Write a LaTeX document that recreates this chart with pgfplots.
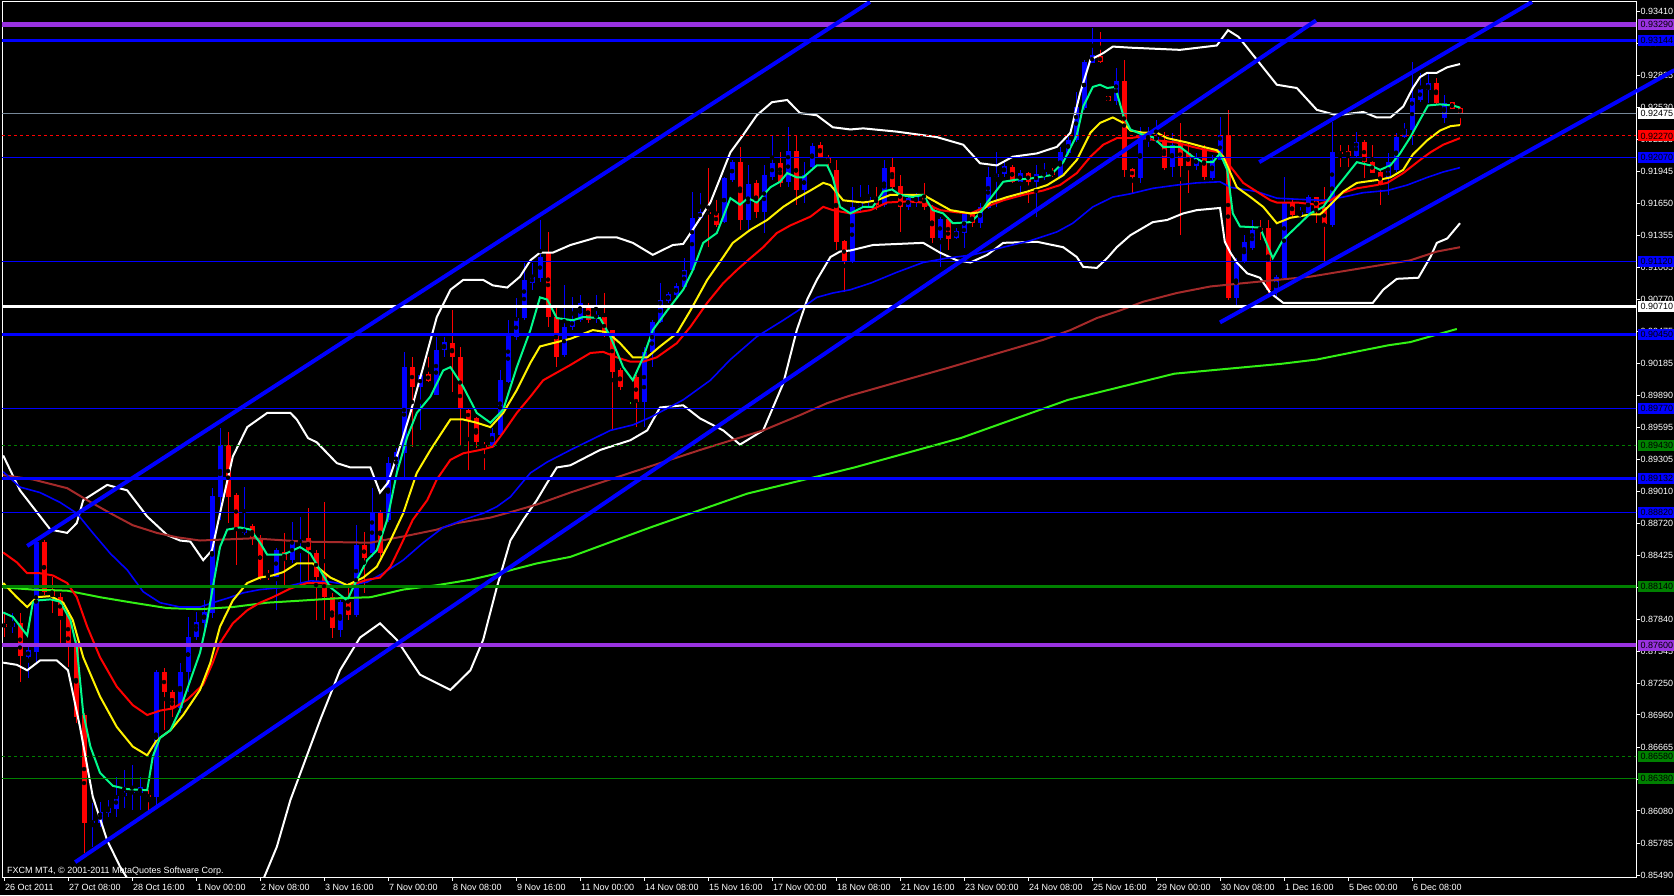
\documentclass[border=0pt]{standalone}
\usepackage{fontspec}
\setmainfont{Liberation Sans}
\usepackage{pgfplots}
\usepackage{pgfplotstable}
\pgfplotsset{compat=1.18}
\definecolor{mtpurple}{RGB}{153,50,224}
\definecolor{mtgreen}{RGB}{0,128,0}
\definecolor{mtspring}{RGB}{0,250,140}
\definecolor{mtbrown}{RGB}{165,42,42}
\definecolor{mtlime}{RGB}{50,240,20}
\definecolor{mtgray}{RGB}{119,136,153}
\definecolor{mtblue}{RGB}{0,0,255}

\pgfplotstableread{
x o h l c
1 0.87767 0.87895 0.87712 0.87803
3 0.87492 0.87620 0.87299 0.87556
4 0.87537 0.88565 0.87437 0.88546
11 0.85969 0.86153 0.85749 0.85988
12 0.85969 0.86162 0.85933 0.86070
13 0.86061 0.86180 0.86024 0.86107
14 0.86098 0.86391 0.86024 0.86217
15 0.86217 0.86455 0.86107 0.86244
16 0.86244 0.86501 0.86088 0.86254
17 0.86244 0.86391 0.86088 0.86299
19 0.86208 0.87372 0.86134 0.87354
22 0.87024 0.87437 0.86978 0.87354
23 0.87354 0.87858 0.87171 0.87675
24 0.87675 0.87904 0.87648 0.87813
25 0.87803 0.88014 0.87712 0.87904
26 0.87895 0.89042 0.87849 0.88968
27 0.88959 0.89592 0.88748 0.89436
30 0.88629 0.89051 0.88611 0.88675
34 0.88225 0.88491 0.87923 0.88473
36 0.88381 0.88730 0.88354 0.88565
37 0.88546 0.88776 0.88152 0.88565
42 0.87739 0.88014 0.87675 0.87996
44 0.87877 0.88702 0.87858 0.88519
46 0.88445 0.89042 0.88409 0.88821
48 0.88748 0.89326 0.88730 0.89271
49 0.89252 0.89408 0.89142 0.89372
50 0.89363 0.90289 0.89142 0.90151
52 0.89968 0.90096 0.89573 0.90078
54 0.89894 0.90426 0.89894 0.90307
55 0.90307 0.90426 0.90243 0.90381
61 0.89418 0.89592 0.89408 0.89546
62 0.89528 0.90124 0.89509 0.90032
63 0.90014 0.90582 0.90005 0.90445
64 0.90426 0.90784 0.90399 0.90601
65 0.90601 0.91105 0.90582 0.90949
66 0.90922 0.91105 0.90857 0.90977
67 0.90967 0.91499 0.90931 0.91160
70 0.90261 0.90903 0.90243 0.90518
71 0.90518 0.90793 0.90491 0.90582
72 0.90582 0.90812 0.90564 0.90738
74 0.90601 0.90812 0.90555 0.90628
80 0.89830 0.90335 0.89601 0.90289
81 0.90289 0.90582 0.90151 0.90564
82 0.90564 0.90922 0.90555 0.90766
83 0.90757 0.90839 0.90738 0.90821
84 0.90812 0.90922 0.90793 0.90894
85 0.90885 0.91151 0.90876 0.91041
86 0.91041 0.91756 0.91022 0.91518
87 0.91518 0.91747 0.91499 0.91573
90 0.91481 0.91894 0.91472 0.91885
91 0.91866 0.92050 0.91848 0.92031
93 0.91499 0.92004 0.91389 0.91830
95 0.91573 0.92004 0.91380 0.91912
96 0.91894 0.92279 0.91866 0.92022
98 0.91848 0.92352 0.91802 0.92132
100 0.91775 0.92031 0.91655 0.91912
101 0.91985 0.92206 0.91976 0.92178
106 0.91114 0.91802 0.91105 0.91619
107 0.91619 0.91820 0.91564 0.91655
108 0.91683 0.91820 0.91619 0.91710
110 0.91637 0.92050 0.91619 0.91976
113 0.91619 0.91729 0.91591 0.91701
114 0.91655 0.91747 0.91619 0.91729
117 0.91334 0.91527 0.91068 0.91509
119 0.91334 0.91426 0.91325 0.91398
120 0.91380 0.91573 0.91243 0.91554
122 0.91472 0.91655 0.91426 0.91619
123 0.91609 0.91985 0.91600 0.91894
124 0.91894 0.92123 0.91619 0.91921
125 0.91921 0.92031 0.91894 0.91995
127 0.91848 0.91958 0.91710 0.91930
129 0.91848 0.92004 0.91527 0.91921
130 0.91894 0.92022 0.91866 0.91940
132 0.91894 0.92169 0.91885 0.92123
133 0.92114 0.92261 0.92095 0.92233
134 0.92233 0.92673 0.92215 0.92536
135 0.92527 0.92967 0.92508 0.92948
136 0.92939 0.93260 0.92939 0.93013
139 0.92591 0.92893 0.92554 0.92774
142 0.91885 0.92352 0.91839 0.92279
143 0.92224 0.92352 0.92169 0.92251
144 0.92233 0.92416 0.92206 0.92261
146 0.91985 0.92297 0.91894 0.92187
149 0.91995 0.92114 0.91958 0.92077
151 0.91885 0.92095 0.91866 0.92050
152 0.92050 0.92444 0.92050 0.92279
154 0.90784 0.91151 0.90701 0.91105
155 0.91114 0.91362 0.91105 0.91298
156 0.91243 0.91499 0.91224 0.91408
159 0.90857 0.90995 0.90793 0.90977
160 0.90967 0.91894 0.90949 0.91655
162 0.91527 0.91619 0.91518 0.91573
163 0.91564 0.91729 0.91545 0.91710
166 0.91454 0.92398 0.91435 0.92123
169 0.92086 0.92306 0.92077 0.92215
173 0.91894 0.92114 0.91729 0.92031
174 0.91958 0.92297 0.91940 0.92261
175 0.92261 0.92389 0.92251 0.92334
176 0.92325 0.92948 0.92187 0.92618
177 0.92600 0.92848 0.92582 0.92701
178 0.92692 0.92848 0.92572 0.92756
180 0.92435 0.92646 0.92389 0.92572
}\upbars

\pgfplotstableread{
x o h l c
0 0.87794 0.87895 0.87675 0.87767
2 0.87803 0.87895 0.87262 0.87501
5 0.88546 0.88565 0.88060 0.88088
6 0.88115 0.88225 0.87895 0.88051
7 0.88042 0.88079 0.87620 0.87868
8 0.87877 0.87923 0.87400 0.87620
9 0.87620 0.87648 0.86886 0.86941
10 0.86960 0.86978 0.85694 0.85969
18 0.86226 0.86272 0.86088 0.86208
20 0.87354 0.87391 0.86822 0.87171
21 0.87171 0.87189 0.86941 0.87024
28 0.89436 0.89555 0.88721 0.88959
29 0.88977 0.88996 0.88335 0.88675
31 0.88693 0.88711 0.88519 0.88583
32 0.88583 0.88611 0.88198 0.88225
33 0.88244 0.88290 0.88198 0.88225
35 0.88455 0.88629 0.88152 0.88381
38 0.88583 0.88858 0.88179 0.88473
39 0.88445 0.88473 0.87831 0.88225
40 0.88244 0.88913 0.87831 0.88042
41 0.88042 0.88079 0.87666 0.87758
43 0.87996 0.88170 0.87831 0.87877
45 0.88519 0.88638 0.88079 0.88400
47 0.88821 0.88840 0.88409 0.88445
51 0.90151 0.90243 0.89418 0.89968
53 0.90087 0.90243 0.90014 0.90023
56 0.90371 0.90674 0.89922 0.90243
57 0.90243 0.90335 0.89436 0.89775
58 0.89757 0.89775 0.89207 0.89665
59 0.89684 0.89693 0.89408 0.89463
60 0.89436 0.89463 0.89207 0.89418
68 0.91197 0.91389 0.90518 0.90610
69 0.90610 0.90701 0.90151 0.90243
73 0.90720 0.90738 0.90555 0.90582
75 0.90610 0.90830 0.90426 0.90445
76 0.90491 0.90491 0.89573 0.90105
77 0.90124 0.90142 0.89940 0.89968
79 0.90060 0.90078 0.89601 0.89830
88 0.91573 0.91976 0.91252 0.91564
89 0.91564 0.91683 0.91435 0.91454
92 0.92031 0.92169 0.91408 0.91499
94 0.91839 0.91866 0.91518 0.91573
97 0.92022 0.92123 0.91802 0.91839
99 0.92132 0.92279 0.91637 0.91775
102 0.92187 0.92215 0.92068 0.92077
103 0.92077 0.92095 0.91976 0.92022
104 0.91958 0.92050 0.91224 0.91298
105 0.91307 0.91316 0.90839 0.91114
109 0.91710 0.91802 0.91591 0.91637
111 0.91985 0.92068 0.91775 0.91802
112 0.91811 0.91912 0.91389 0.91619
115 0.91729 0.91839 0.91591 0.91619
116 0.91619 0.91637 0.91288 0.91334
118 0.91509 0.91527 0.91224 0.91325
121 0.91554 0.91564 0.91435 0.91472
126 0.91985 0.92004 0.91839 0.91848
128 0.91930 0.91940 0.91655 0.91848
131 0.91940 0.91976 0.91894 0.91912
137 0.93003 0.93224 0.92939 0.92948
138 0.92637 0.92637 0.92591 0.92591
140 0.92774 0.92967 0.91894 0.91958
141 0.91967 0.91976 0.91747 0.91894
145 0.92233 0.92306 0.91958 0.91976
147 0.92206 0.92389 0.91362 0.91995
148 0.92114 0.92206 0.91747 0.91995
150 0.92141 0.92187 0.91866 0.91894
153 0.92279 0.92508 0.90766 0.90784
157 0.91426 0.91499 0.91316 0.91408
158 0.91426 0.91499 0.90830 0.90857
161 0.91655 0.91683 0.91527 0.91545
164 0.91710 0.91710 0.91472 0.91591
165 0.91619 0.91802 0.91114 0.91463
167 0.92123 0.92187 0.91985 0.92105
168 0.92132 0.92187 0.91985 0.92086
170 0.92215 0.92233 0.91885 0.92031
171 0.92031 0.92187 0.91930 0.91930
172 0.91940 0.91958 0.91637 0.91820
179 0.92756 0.92802 0.92554 0.92572
181 0.92582 0.92582 0.92517 0.92517
182 0.92527 0.92536 0.92371 0.92475
}\downbars

\pgfplotstableread{
x o h l c
78 0.89821 0.89821 0.89821 0.89821
}\dojibars

\pgfplotsset{
  wick/.style={only marks, mark=none, forget plot,
    error bars/.cd, y dir=both, y explicit, error mark=none,
    error bar style={line width=1pt, #1}},
  body/.style={only marks, mark=none, forget plot,
    error bars/.cd, y dir=both, y explicit, error mark=none,
    error bar style={line width=5pt, #1}},
  hl/.style={forget plot, no markers, line cap=butt},
}
\newcommand{\candles}[2]{%
  \addplot[wick=#2] table[x=x, y expr={(\thisrow{h}+\thisrow{l})/2}, y error expr={(\thisrow{h}-\thisrow{l})/2}] {#1};
  \addplot[body=#2] table[x=x, y expr={(\thisrow{o}+\thisrow{c})/2}, y error expr={max(abs(\thisrow{o}-\thisrow{c})/2,0.00005)}] {#1};
}
\newcommand{\mtfont}{\fontsize{9pt}{10pt}\selectfont}

\begin{document}
\begin{tikzpicture}
\fill[black] (0,0) rectangle (1674pt,895pt);
\begin{axis}[
  at={(2pt,18pt)}, anchor=south west,
  scale only axis, width=1634pt, height=875pt,
  xmin=-0.25, xmax=204, ymin=0.85474, ymax=0.93499,
  axis background/.style={fill=black},
  axis line style={white, line width=1pt},
  xtick={0,8,...,176},
  xticklabels={26 Oct 2011, 27 Oct 08:00, 28 Oct 16:00, 1 Nov 00:00, 2 Nov 08:00, 3 Nov 16:00, 7 Nov 00:00, 8 Nov 08:00, 9 Nov 16:00, 11 Nov 00:00, 14 Nov 08:00, 15 Nov 16:00, 17 Nov 00:00, 18 Nov 08:00, 21 Nov 16:00, 23 Nov 00:00, 24 Nov 08:00, 25 Nov 16:00, 29 Nov 00:00, 30 Nov 08:00, 1 Dec 16:00, 5 Dec 00:00, 6 Dec 08:00},
  ytick={0.85490,0.85785,0.86080,0.86370,0.86665,0.86960,0.87250,0.87545,0.87840,0.88130,0.88425,0.88720,0.89010,0.89305,0.89595,0.89890,0.90185,0.90475,0.90770,0.91065,0.91355,0.91650,0.91945,0.92235,0.92530,0.92825,0.93120,0.93410},
  yticklabels={0.85490,0.85785,0.86080,0.86370,0.86665,0.86960,0.87250,0.87545,0.87840,0.88130,0.88425,0.88720,0.89010,0.89305,0.89595,0.89890,0.90185,0.90475,0.90770,0.91065,0.91355,0.91650,0.91945,0.92235,0.92530,0.92825,0.93120,0.93410},
  xtick pos=bottom, ytick pos=right, yticklabel pos=right,
  tick align=outside, major tick length=3.5pt,
  tick style={white, line width=1pt},
  xticklabel style={anchor=north west, inner sep=0pt, xshift=1pt, yshift=-4pt, text=white, font=\mtfont},
  yticklabel style={anchor=west, inner sep=0pt, xshift=1pt, text=white, font=\mtfont},
  /pgf/number format/assume math mode=true,
  clip=true,
]
% candles
\candles{\upbars}{mtblue}
\candles{\downbars}{red}
\candles{\dojibars}{mtlime}

% Bollinger bands
\addplot[hl, white, line width=2pt] coordinates {
(-0.1,0.8934) (2.0,0.8902) (5.8,0.8866) (7.9,0.8863) (9.1,0.8872) (9.9,0.8893) (12.9,0.8907) (15.4,0.8902) (17.9,0.8878) (20.4,0.8861) (22.0,0.8856) (23.3,0.8855) (24.9,0.8838) (26.0,0.8847) (27.0,0.8881) (28.6,0.8933) (30.4,0.8960) (32.9,0.8973) (35.8,0.8973) (36.6,0.8967) (38.0,0.8950) (39.1,0.8946) (41.6,0.8927) (43.3,0.8923) (45.8,0.8923) (47.0,0.8900) (48.0,0.8909) (49.5,0.8942) (50.8,0.8973) (52.4,0.9015) (54.1,0.9061) (55.8,0.9086) (57.4,0.9095) (59.9,0.9095) (61.1,0.9090) (62.9,0.9088) (64.5,0.9098) (65.8,0.9113) (67.0,0.9120) (68.6,0.9120) (70.8,0.9127) (74.1,0.9134) (76.6,0.9134) (78.6,0.9129) (81.1,0.9118) (83.6,0.9127) (84.9,0.9128) (86.1,0.9141) (88.3,0.9166) (90.8,0.9212) (92.4,0.9228) (94.1,0.9246) (96.0,0.9258) (97.9,0.9260) (99.5,0.9248) (101.6,0.9246) (103.6,0.9235) (105.8,0.9233) (107.4,0.9234) (111.6,0.9231) (116.6,0.9226) (119.9,0.9219) (122.0,0.9202) (124.1,0.9200) (126.1,0.9208) (129.1,0.9211) (131.6,0.9217) (133.3,0.9230) (134.5,0.9266) (135.8,0.9297) (137.4,0.9303) (138.6,0.9309) (140.8,0.9308) (147.0,0.9306) (151.6,0.9310) (153.0,0.9324) (154.3,0.9318) (156.6,0.9297) (159.1,0.9274) (161.6,0.9271) (164.1,0.9251) (166.6,0.9246) (169.9,0.9249) (171.6,0.9244) (173.3,0.9244) (174.9,0.9254) (176.1,0.9271) (177.0,0.9281) (177.9,0.9285) (179.1,0.9285) (180.4,0.9290) (182.0,0.9293)};
\addplot[hl, white, line width=2pt] coordinates {
(-0.1,0.8744) (1.6,0.8742) (2.9,0.8737) (4.5,0.8746) (6.6,0.8746) (8.0,0.8737) (9.5,0.8685) (11.1,0.8621) (12.9,0.8581) (14.5,0.8557) (15.5,0.8545) (19.5,0.8471) (24.5,0.8444) (29.5,0.8480) (32.4,0.8545) (34.1,0.8575) (35.8,0.8618) (39.5,0.8691) (42.0,0.8737) (44.5,0.8767) (47.0,0.8780) (49.1,0.8765) (52.0,0.8733) (55.8,0.8719) (58.3,0.8737) (59.9,0.8765) (61.6,0.8813) (63.3,0.8856) (64.9,0.8875) (66.6,0.8893) (67.9,0.8909) (69.1,0.8923) (70.8,0.8925) (74.5,0.8939) (78.3,0.8948) (80.4,0.8957) (82.0,0.8978) (84.9,0.8980) (87.0,0.8968) (89.9,0.8957) (92.0,0.8944) (94.9,0.8957) (97.4,0.9000) (99.1,0.9049) (100.4,0.9077) (101.6,0.9095) (103.3,0.9116) (104.5,0.9121) (105.8,0.9122) (108.6,0.9127) (114.9,0.9129) (117.0,0.9120) (119.1,0.9113) (120.8,0.9111) (122.9,0.9118) (124.9,0.9129) (129.1,0.9130) (132.4,0.9125) (134.1,0.9116) (134.9,0.9107) (136.6,0.9106) (137.9,0.9115) (139.1,0.9125) (140.8,0.9136) (143.6,0.9148) (145.4,0.9150) (147.4,0.9156) (149.1,0.9159) (152.0,0.9161) (152.6,0.9130) (153.3,0.9120) (154.1,0.9111) (155.4,0.9101) (157.0,0.9097) (158.3,0.9083) (159.9,0.9074) (163.3,0.9074) (167.4,0.9074) (171.1,0.9074) (172.4,0.9086) (174.1,0.9096) (176.8,0.9097) (178.3,0.9116) (179.1,0.9129) (180.4,0.9133) (182.0,0.9147)};

% lime MA
\addplot[hl, mtlime, line width=2pt] coordinates {
(-0.1,0.8813) (3.6,0.8811) (7.9,0.8810) (12.0,0.8804) (16.1,0.8799) (20.4,0.8794) (24.5,0.8793) (28.6,0.8795) (32.9,0.8799) (37.4,0.8801) (41.6,0.8803) (45.8,0.8804) (49.9,0.8811) (54.1,0.8815) (58.3,0.8820) (62.4,0.8827) (66.6,0.8835) (70.8,0.8841) (80.8,0.8868) (92.9,0.8899) (106.3,0.8923) (119.6,0.8950) (133.0,0.8985) (146.3,0.9009) (159.6,0.9018) (164.1,0.9022) (173.0,0.9035) (175.8,0.9038) (181.6,0.9050)};
% brown MA
\addplot[hl, mtbrown, line width=2pt] coordinates {
(-0.1,0.8916) (3.6,0.8912) (7.9,0.8904) (10.4,0.8893) (13.3,0.8881) (16.1,0.8870) (19.1,0.8863) (21.6,0.8859) (24.5,0.8856) (31.1,0.8858) (37.4,0.8855) (45.8,0.8854) (50.8,0.8861) (54.1,0.8866) (56.6,0.8872) (60.8,0.8877) (63.3,0.8882) (66.6,0.8889) (70.8,0.8900) (79.5,0.8921) (87.0,0.8939) (94.9,0.8957) (99.5,0.8971) (102.9,0.8982) (105.8,0.8989) (118.3,0.9015) (129.9,0.9040) (133.3,0.9049) (136.6,0.9060) (139.5,0.9067) (142.4,0.9075) (146.6,0.9083) (150.8,0.9089) (154.9,0.9092) (159.1,0.9095) (163.3,0.9098) (167.4,0.9103) (171.6,0.9108) (175.8,0.9113) (179.1,0.9121) (182.0,0.9125)};
% blue MA
\addplot[hl, mtblue, line width=1.6pt] coordinates {
(-0.1,0.8919) (2.0,0.8905) (4.5,0.8900) (7.0,0.8891) (9.1,0.8881) (11.1,0.8863) (13.3,0.8844) (15.4,0.8829) (17.4,0.8809) (19.5,0.8799) (22.0,0.8795) (24.5,0.8795) (26.1,0.8799) (27.9,0.8803) (29.9,0.8808) (32.0,0.8811) (34.9,0.8813) (38.3,0.8819) (40.8,0.8818) (43.3,0.8815) (45.4,0.8818) (47.4,0.8826) (49.9,0.8838) (52.4,0.8854) (54.9,0.8868) (57.4,0.8875) (59.9,0.8881) (61.6,0.8887) (63.3,0.8896) (65.8,0.8918) (67.9,0.8928) (70.8,0.8939) (73.3,0.8948) (75.8,0.8957) (78.6,0.8962) (80.8,0.8969) (84.9,0.8985) (88.3,0.9003) (90.8,0.9022) (94.1,0.9043) (97.4,0.9058) (99.9,0.9070) (101.6,0.9079) (103.6,0.9083) (105.8,0.9086) (108.3,0.9092) (111.6,0.9102) (114.9,0.9111) (117.9,0.9115) (121.1,0.9118) (124.9,0.9125) (128.3,0.9131) (131.6,0.9139) (133.6,0.9147) (136.1,0.9162) (138.6,0.9171) (140.8,0.9174) (143.6,0.9179) (146.6,0.9182) (149.1,0.9184) (152.0,0.9185) (153.3,0.9180) (156.6,0.9176) (159.1,0.9170) (161.6,0.9169) (164.9,0.9168) (167.4,0.9171) (169.9,0.9175) (172.9,0.9177) (175.4,0.9182) (177.9,0.9189) (179.9,0.9194) (182.0,0.9198)};
% red MA
\addplot[hl, red, line width=2pt] coordinates {
(-0.1,0.8845) (1.6,0.8836) (2.9,0.8826) (4.5,0.8826) (6.1,0.8824) (7.9,0.8817) (9.1,0.8804) (10.4,0.8777) (12.0,0.8749) (14.1,0.8722) (16.1,0.8705) (17.9,0.8696) (19.5,0.8700) (21.1,0.8702) (22.9,0.8710) (24.9,0.8724) (26.1,0.8744) (27.0,0.8762) (28.6,0.8780) (30.4,0.8792) (32.0,0.8799) (33.6,0.8804) (35.8,0.8812) (37.9,0.8817) (39.9,0.8817) (41.6,0.8813) (43.3,0.8815) (45.4,0.8820) (47.0,0.8822) (48.3,0.8832) (49.5,0.8850) (51.1,0.8875) (52.9,0.8893) (54.1,0.8912) (55.8,0.8930) (57.4,0.8936) (59.5,0.8939) (61.1,0.8942) (62.4,0.8955) (64.1,0.8973) (65.8,0.8988) (67.4,0.9003) (69.1,0.9010) (70.8,0.9017) (73.3,0.9028) (74.9,0.9029) (76.6,0.9024) (78.3,0.9020) (79.9,0.9020) (81.6,0.9024) (84.1,0.9037) (85.8,0.9052) (87.9,0.9074) (89.9,0.9092) (91.6,0.9104) (93.3,0.9115) (94.9,0.9125) (96.6,0.9138) (98.3,0.9145) (100.8,0.9153) (102.4,0.9162) (103.6,0.9159) (105.8,0.9156) (108.3,0.9159) (110.4,0.9166) (112.9,0.9167) (114.9,0.9166) (117.0,0.9159) (119.1,0.9157) (120.8,0.9156) (122.4,0.9161) (124.9,0.9168) (127.4,0.9173) (129.9,0.9177) (132.0,0.9182) (134.1,0.9193) (135.8,0.9208) (137.4,0.9219) (139.1,0.9225) (140.8,0.9225) (141.6,0.9226) (144.1,0.9223) (146.6,0.9221) (148.6,0.9217) (150.4,0.9214) (152.0,0.9212) (153.3,0.9199) (154.9,0.9184) (156.6,0.9176) (158.3,0.9168) (159.1,0.9166) (161.6,0.9166) (164.1,0.9164) (165.8,0.9168) (167.4,0.9175) (169.1,0.9179) (171.6,0.9182) (172.9,0.9184) (174.9,0.9193) (177.0,0.9205) (178.3,0.9212) (179.9,0.9219) (182.0,0.9225)};
% yellow MA
\addplot[hl, yellow, line width=2pt] coordinates {
(-0.1,0.8817) (1.6,0.8804) (2.9,0.8795) (4.1,0.8804) (5.8,0.8805) (7.4,0.8799) (8.6,0.8783) (9.9,0.8749) (12.0,0.8713) (14.1,0.8685) (16.1,0.8667) (17.9,0.8659) (19.1,0.8673) (20.8,0.8682) (22.4,0.8696) (24.5,0.8719) (25.8,0.8744) (27.0,0.8777) (28.6,0.8801) (30.4,0.8817) (32.0,0.8822) (33.6,0.8824) (34.9,0.8827) (36.6,0.8835) (38.6,0.8835) (40.8,0.8822) (42.9,0.8815) (44.9,0.8822) (46.6,0.8832) (48.3,0.8856) (49.9,0.8881) (51.6,0.8918) (53.3,0.8939) (54.9,0.8957) (55.8,0.8967) (57.4,0.8967) (59.1,0.8964) (60.8,0.8960) (62.4,0.8973) (64.1,0.8994) (65.8,0.9019) (67.0,0.9034) (68.6,0.9037) (70.8,0.9041) (73.6,0.9049) (75.4,0.9047) (77.0,0.9037) (78.6,0.9024) (80.4,0.9024) (82.0,0.9034) (84.1,0.9046) (85.8,0.9067) (87.9,0.9095) (89.9,0.9116) (91.1,0.9129) (93.3,0.9141) (95.4,0.9150) (97.4,0.9162) (99.1,0.9170) (100.8,0.9177) (102.4,0.9184) (103.3,0.9182) (104.9,0.9168) (107.4,0.9166) (109.1,0.9168) (110.8,0.9173) (113.3,0.9173) (114.9,0.9173) (116.6,0.9166) (118.3,0.9159) (120.8,0.9156) (122.0,0.9157) (123.3,0.9166) (125.4,0.9171) (127.9,0.9176) (130.4,0.9182) (132.4,0.9191) (134.1,0.9205) (135.8,0.9230) (137.0,0.9239) (138.6,0.9244) (139.9,0.9239) (140.8,0.9232) (142.4,0.9230) (144.1,0.9230) (145.4,0.9225) (147.9,0.9221) (149.9,0.9217) (151.6,0.9214) (152.4,0.9208) (154.1,0.9180) (155.8,0.9171) (157.4,0.9162) (159.1,0.9147) (160.8,0.9152) (163.3,0.9155) (164.5,0.9155) (165.8,0.9164) (167.4,0.9176) (169.1,0.9184) (172.0,0.9187) (173.3,0.9189) (174.9,0.9196) (176.1,0.9210) (177.9,0.9223) (179.5,0.9232) (180.8,0.9236) (182.0,0.9237)};
% spring green MA
\addplot[hl, mtspring, line width=2pt] coordinates {
(-0.1,0.8790) (1.1,0.8786) (2.9,0.8769) (3.6,0.8799) (4.1,0.8801) (5.8,0.8802) (7.0,0.8800) (8.3,0.8783) (9.1,0.8758) (9.9,0.8698) (10.8,0.8667) (12.0,0.8643) (13.6,0.8631) (15.4,0.8628) (17.9,0.8627) (18.6,0.8658) (19.5,0.8675) (20.8,0.8682) (22.0,0.8701) (23.3,0.8728) (24.5,0.8753) (25.4,0.8783) (26.1,0.8813) (27.0,0.8850) (27.9,0.8866) (29.5,0.8868) (30.8,0.8866) (32.0,0.8854) (32.9,0.8843) (34.9,0.8843) (37.0,0.8850) (38.3,0.8844) (39.5,0.8829) (40.8,0.8813) (42.9,0.8801) (44.1,0.8820) (45.4,0.8838) (46.6,0.8847) (47.9,0.8875) (49.1,0.8918) (50.4,0.8951) (51.6,0.8973) (53.3,0.8988) (54.9,0.9012) (55.8,0.9015) (57.4,0.8997) (59.1,0.8973) (60.8,0.8964) (62.4,0.8976) (64.1,0.9015) (65.8,0.9049) (67.0,0.9079) (67.9,0.9077) (69.1,0.9060) (71.1,0.9058) (72.4,0.9061) (74.5,0.9060) (75.8,0.9043) (77.4,0.9015) (78.6,0.9003) (79.9,0.9024) (81.1,0.9049) (82.9,0.9067) (84.9,0.9086) (86.1,0.9104) (87.4,0.9129) (89.1,0.9138) (90.8,0.9170) (92.0,0.9164) (93.0,0.9170) (94.1,0.9166) (95.8,0.9180) (97.0,0.9185) (97.9,0.9193) (99.1,0.9189) (99.9,0.9189) (101.6,0.9200) (102.9,0.9200) (103.6,0.9189) (104.5,0.9162) (105.8,0.9156) (107.4,0.9162) (108.6,0.9162) (109.9,0.9176) (111.0,0.9178) (112.0,0.9173) (113.6,0.9171) (114.9,0.9173) (116.1,0.9159) (117.4,0.9156) (118.6,0.9147) (120.8,0.9148) (122.0,0.9156) (122.9,0.9166) (124.9,0.9185) (126.6,0.9187) (128.3,0.9188) (130.8,0.9191) (132.4,0.9203) (134.1,0.9228) (134.9,0.9254) (136.1,0.9272) (137.0,0.9274) (137.9,0.9271) (138.9,0.9272) (139.9,0.9246) (140.8,0.9233) (142.4,0.9228) (143.6,0.9226) (144.9,0.9217) (147.0,0.9217) (148.6,0.9208) (149.9,0.9203) (151.1,0.9203) (152.0,0.9211) (152.9,0.9196) (153.6,0.9156) (154.5,0.9144) (157.0,0.9143) (158.6,0.9115) (159.9,0.9132) (161.6,0.9144) (163.3,0.9156) (164.9,0.9162) (166.6,0.9180) (169.1,0.9203) (170.8,0.9200) (172.0,0.9196) (173.3,0.9200) (174.5,0.9211) (175.8,0.9226) (177.0,0.9242) (178.0,0.9255) (179.5,0.9256) (181.1,0.9255) (182.0,0.9253)};

% horizontal levels
\addplot[hl, mtpurple, line width=5pt] coordinates {(-1,0.93290) (205,0.93290)};
\addplot[hl, mtblue, line width=3.5pt] coordinates {(-1,0.93144) (205,0.93144)};
\addplot[hl, mtgray, line width=1pt] coordinates {(-1,0.92475) (205,0.92475)};
\addplot[hl, red, line width=1pt, dash pattern=on 3pt off 3pt] coordinates {(-1,0.92270) (205,0.92270)};
\addplot[hl, mtblue, line width=1pt] coordinates {(-1,0.92070) (205,0.92070)};
\addplot[hl, mtblue, line width=1pt] coordinates {(-1,0.91120) (205,0.91120)};
\addplot[hl, white, line width=3pt] coordinates {(-1,0.90710) (205,0.90710)};
\addplot[hl, mtblue, line width=3pt] coordinates {(-1,0.90450) (205,0.90450)};
\addplot[hl, mtblue, line width=1pt] coordinates {(-1,0.89770) (205,0.89770)};
\addplot[hl, mtgreen, line width=1pt, dash pattern=on 3pt off 3pt] coordinates {(-1,0.89430) (205,0.89430)};
\addplot[hl, mtblue, line width=3pt] coordinates {(-1,0.89132) (205,0.89132)};
\addplot[hl, mtblue, line width=1pt] coordinates {(-1,0.88820) (205,0.88820)};
\addplot[hl, mtgreen, line width=3pt] coordinates {(-1,0.88140) (205,0.88140)};
\addplot[hl, mtpurple, line width=4.5pt] coordinates {(-1,0.87600) (205,0.87600)};
\addplot[hl, mtgreen, line width=1pt, dash pattern=on 3pt off 3pt] coordinates {(-1,0.86580) (205,0.86580)};
\addplot[hl, mtgreen, line width=1pt] coordinates {(-1,0.86380) (205,0.86380)};

% trend lines
\addplot[hl, mtblue, line width=4pt] coordinates {(2.9,0.8851) (108.25,0.9350)};
\addplot[hl, mtblue, line width=4pt] coordinates {(8.9,0.8561) (164,0.9333)};
\addplot[hl, mtblue, line width=4pt] coordinates {(156.9,0.9203) (191,0.9350)};
\addplot[hl, mtblue, line width=4pt] coordinates {(152,0.9056) (205,0.9272)};

% anchors for the price labels and the trend line's run over the scale
\coordinate (t1) at (axis cs:204,0.92678);
\coordinate (t2) at (axis cs:208.8,0.92874);
\coordinate (q1) at (axis cs:204,0.93290);
\coordinate (q2) at (axis cs:204,0.93144);
\coordinate (q3) at (axis cs:204,0.92475);
\coordinate (q4) at (axis cs:204,0.92270);
\coordinate (q5) at (axis cs:204,0.92070);
\coordinate (q6) at (axis cs:204,0.91120);
\coordinate (q7) at (axis cs:204,0.90710);
\coordinate (q8) at (axis cs:204,0.90450);
\coordinate (q9) at (axis cs:204,0.89770);
\coordinate (q10) at (axis cs:204,0.89430);
\coordinate (q11) at (axis cs:204,0.89132);
\coordinate (q12) at (axis cs:204,0.88820);
\coordinate (q13) at (axis cs:204,0.88140);
\coordinate (q14) at (axis cs:204,0.87600);
\coordinate (q15) at (axis cs:204,0.86580);
\coordinate (q16) at (axis cs:204,0.86380);
\coordinate (cw) at (rel axis cs:0,0);
\end{axis}
\tikzset{pl/.style={anchor=west, text=black, fill=#1, inner xsep=3pt, inner ysep=0pt, minimum height=11pt, text width=34pt, align=left, font=\mtfont}}
\node[pl=mtpurple] at ([xshift=1.5pt]q1) {0.93290};
\node[pl=mtblue] at ([xshift=1.5pt]q2) {0.93144};
\node[pl=white] at ([xshift=1.5pt]q3) {0.92475};
\node[pl=red] at ([xshift=1.5pt]q4) {0.92270};
\node[pl=mtblue] at ([xshift=1.5pt]q5) {0.92070};
\node[pl=mtblue] at ([xshift=1.5pt]q6) {0.91120};
\node[pl=white] at ([xshift=1.5pt]q7) {0.90710};
\node[pl=mtblue] at ([xshift=1.5pt]q8) {0.90450};
\node[pl=mtblue] at ([xshift=1.5pt]q9) {0.89770};
\node[pl=mtgreen] at ([xshift=1.5pt]q10) {0.89430};
\node[pl=mtblue] at ([xshift=1.5pt]q11) {0.89132};
\node[pl=mtblue] at ([xshift=1.5pt]q12) {0.88820};
\node[pl=mtgreen] at ([xshift=1.5pt]q13) {0.88140};
\node[pl=mtpurple] at ([xshift=1.5pt]q14) {0.87600};
\node[pl=mtgreen] at ([xshift=1.5pt]q15) {0.86580};
\node[pl=mtgreen] at ([xshift=1.5pt]q16) {0.86380};
\draw[mtblue, line width=4pt] (t1) -- (t2);
\node[anchor=base west, text=white, inner sep=0pt, font=\mtfont] at ([shift={(5pt,4pt)}]cw) {FXCM MT4, \textcopyright{} 2001-2011 MetaQuotes Software Corp.};
\pgfresetboundingbox
\path (0,0) rectangle (1674pt,895pt);
\end{tikzpicture}
\end{document}
